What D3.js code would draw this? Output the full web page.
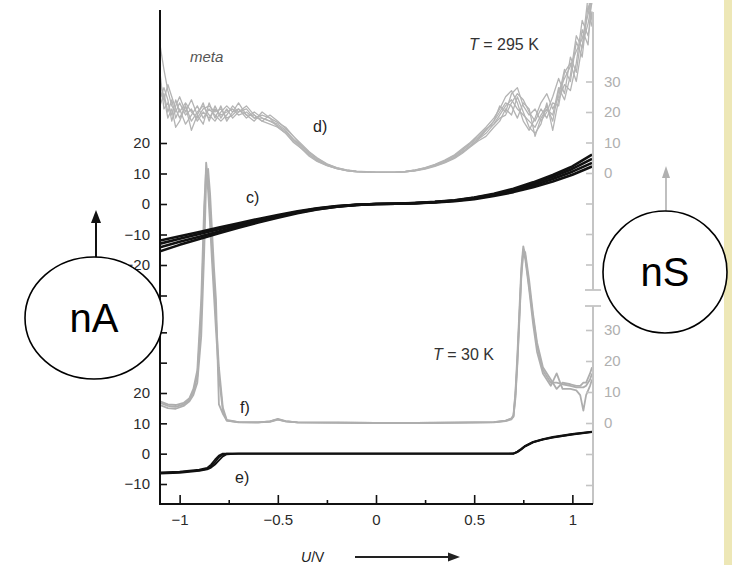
<!DOCTYPE html>
<html>
<head>
<meta charset="utf-8">
<script src="https://cdnjs.cloudflare.com/ajax/libs/d3/7.8.5/d3.min.js"></script>
<style>
  body { margin: 0; background: #fff; }
  svg { display: block; font-family: "Liberation Sans", Arial, sans-serif; }
</style>
</head>
<body>
<script>
'use strict';

// ---- values ----
// upper panel (T = 295 K): c) current in nA, d) conductance in nS
const cU = [-1.1, -1.0, -0.9, -0.8, -0.7, -0.6, -0.5, -0.4, -0.3, -0.2, -0.1, 0,
  0.1, 0.2, 0.3, 0.4, 0.5, 0.6, 0.7, 0.8, 0.9, 1.0, 1.1];
const cTraces = [
  [-12, -10.6, -9.2, -7.7, -6.3, -4.9, -3.6, -2.4, -1.4, -0.7, -0.25, 0, 0.1, 0.25, 0.5, 0.95, 1.6, 2.6, 3.9, 5.5, 7.4, 9.6, 12.3],
  [-13, -11.4, -9.8, -8.3, -6.7, -5.3, -3.9, -2.6, -1.5, -0.75, -0.3, 0, 0.1, 0.3, 0.6, 1.05, 1.8, 2.9, 4.3, 6.1, 8.2, 10.6, 13.5],
  [-14.2, -12.4, -10.7, -9.0, -7.3, -5.8, -4.2, -2.8, -1.7, -0.85, -0.3, 0, 0.1, 0.3, 0.65, 1.15, 2.0, 3.1, 4.7, 6.7, 8.9, 11.5, 14.8],
  [-15.5, -13.4, -11.5, -9.6, -7.8, -6.1, -4.5, -3.0, -1.8, -0.9, -0.35, 0, 0.12, 0.35, 0.7, 1.25, 2.15, 3.35, 5.0, 7.1, 9.5, 12.3, 16.2]
];

const dU = [-1.1, -1.08, -1.06, -1.04, -1.02, -1.0, -0.97, -0.94, -0.91, -0.88, -0.85, -0.82,
  -0.79, -0.76, -0.73, -0.7, -0.66, -0.62, -0.58, -0.54, -0.5, -0.46, -0.42, -0.38, -0.34,
  -0.3, -0.25, -0.2, -0.15, -0.1, 0, 0.1, 0.15, 0.2, 0.25, 0.3, 0.35, 0.4, 0.44, 0.48, 0.52,
  0.56, 0.6, 0.63, 0.66, 0.69, 0.72, 0.75, 0.78, 0.81, 0.84, 0.87, 0.9, 0.93, 0.96, 0.99,
  1.02, 1.05, 1.08, 1.1];
const dTraces = [
  [42, 34, 27, 22, 20, 23, 19, 21, 17, 20, 18, 21, 19, 20, 21, 19, 20, 18, 18, 17, 16, 14, 11, 9, 6.5,
   4.5, 2.8, 1.6, 0.9, 0.5, 0.2, 0.2, 0.4, 0.8, 1.5, 2.4, 3.6, 5.2, 7, 9, 11, 13, 16, 19, 22, 24,
   21, 19, 17, 15, 19, 22, 17, 27, 31, 35, 40, 44, 52, 58],
  [27, 24, 29, 25, 21, 18, 22, 17, 20, 22, 19, 17, 20, 22, 20, 21, 19, 19, 17, 16, 15, 13, 10, 8, 6,
   4, 2.5, 1.4, 0.8, 0.4, 0.2, 0.3, 0.5, 1.0, 1.8, 2.8, 4.2, 6, 8, 10, 12.5, 15, 18, 21, 25, 27,
   23, 17, 14, 18, 23, 26, 21, 25, 34, 30, 43, 38, 55, 48],
  [22, 26, 20, 24, 18, 21, 16, 19, 22, 18, 21, 19, 17, 19, 22, 20, 21, 18, 19, 18, 16.5, 15, 12, 9.5, 7,
   5, 3, 1.8, 1.0, 0.6, 0.3, 0.3, 0.5, 0.9, 1.6, 2.6, 3.9, 5.6, 7.5, 9.5, 11.5, 14, 17, 22, 20, 26,
   28, 22, 19, 21, 17, 20, 25, 31, 26, 38, 33, 47, 42, 60],
  [33, 21, 23, 19, 24, 20, 23, 20, 18, 21, 22, 20, 21, 18, 19, 21, 18, 20, 18, 17, 15.5, 13.5, 11, 8.5, 6,
   4.2, 2.6, 1.5, 0.8, 0.5, 0.2, 0.2, 0.4, 0.7, 1.3, 2.2, 3.3, 4.8, 6.5, 8.5, 10.5, 12, 15, 17, 21, 19,
   25, 20, 15, 13, 16, 23, 14, 24, 29, 27, 36, 50, 45, 53],
  [30, 25, 18, 21, 15, 17, 22, 14, 19, 16, 23, 18, 22, 17, 20, 23, 19, 17, 20, 18, 15, 13, 10.5, 8, 5.5,
   3.8, 2.4, 1.4, 0.8, 0.4, 0.2, 0.2, 0.4, 0.8, 1.4, 2.3, 3.5, 5, 6.8, 8.8, 11, 14, 17, 20, 23, 22,
   18, 23, 21, 12, 18, 21, 19, 28, 24, 32, 45, 41, 58, 50],
  [24, 28, 24, 17, 22, 25, 20, 24, 19, 23, 17, 22, 18, 21, 18, 20, 22, 19, 17, 19, 17, 14.5, 12, 9, 6.8,
   4.8, 2.9, 1.7, 0.9, 0.5, 0.2, 0.3, 0.5, 0.9, 1.7, 2.7, 4.0, 5.7, 7.6, 9.8, 12, 14.5, 16, 18, 19, 23,
   26, 24, 20, 17, 21, 18, 23, 22, 33, 36, 30, 42, 49, 56]
];

// lower panel (T = 30 K): e) current in nA, f) conductance in nS
const eU = [-1.1, -1.0, -0.9, -0.86, -0.84, -0.82, -0.8, -0.78, -0.76, -0.7, -0.5, 0,
  0.5, 0.7, 0.72, 0.74, 0.76, 0.8, 0.85, 0.9, 1.0, 1.1];
const eTraces = [
  [-6.4, -6.1, -5.5, -5.0, -4.2, -2.8, -1.2, -0.3, 0, 0, 0, 0, 0, 0, 0.6, 1.5, 2.5, 3.8, 4.7, 5.4, 6.4, 7.2],
  [-6.6, -6.3, -5.7, -5.2, -4.6, -3.6, -2.2, -0.9, -0.2, 0, 0, 0, 0, 0, 0.5, 1.4, 2.4, 3.7, 4.6, 5.3, 6.3, 7.1],
  [-6.2, -5.9, -5.3, -4.7, -3.6, -2.0, -0.6, 0, 0, 0, 0, 0, 0, 0.05, 0.7, 1.6, 2.6, 3.9, 4.8, 5.5, 6.5, 7.3]
];

const fU = [-1.1, -1.06, -1.02, -0.98, -0.95, -0.93, -0.91, -0.89, -0.875, -0.865, -0.855,
  -0.845, -0.835, -0.825, -0.815, -0.8, -0.78, -0.76, -0.7, -0.6, -0.54, -0.5, -0.46, -0.4,
  -0.2, 0, 0.2, 0.4, 0.6, 0.66, 0.69, 0.7, 0.71, 0.72, 0.73, 0.74, 0.75, 0.76, 0.78, 0.8,
  0.82, 0.85, 0.89, 0.92, 0.95, 0.99, 1.02, 1.04, 1.056, 1.07, 1.09, 1.1];
const fTraces = [
  [6.5, 5.5, 5.2, 6, 7.5, 10, 15, 35, 65, 84, 78, 68, 56, 45, 34, 18, 5, 1, 0.3, 0.2, 0.5, 1.3,
   0.6, 0.2, 0.1, 0, 0, 0.1, 0.3, 0.8, 1.5, 2.5, 10, 22, 36, 50, 57, 54, 44, 34, 25, 17, 13, 13,
   12.5, 12, 11.5, 11.5, 11.5, 12, 14, 16],
  [5.8, 4.8, 4.6, 5.5, 7, 9, 13, 28, 55, 78, 82, 74, 62, 50, 40, 6, 3, 0.8, 0.2, 0.2, 0.4, 1.1,
   0.5, 0.2, 0.1, 0, 0, 0.1, 0.2, 0.6, 1.2, 2, 8, 19, 33, 47, 55, 53, 43, 32, 23, 16, 12, 16,
   11, 11, 10.5, 9, 4, 9, 12, 14],
  [7, 6, 5.8, 6.5, 8, 11, 17, 40, 70, 82, 75, 64, 52, 41, 30, 15, 4, 0.8, 0.3, 0.2, 0.5, 1.2,
   0.5, 0.2, 0.1, 0, 0, 0.1, 0.3, 0.7, 1.4, 2.2, 9, 20, 34, 48, 56, 55, 46, 35, 26, 18, 14, 11,
   13, 12.5, 12, 12, 13, 13, 16, 18]
];

// tick values
const xTicks = [-1, -0.5, 0, 0.5, 1];
const xMinorTicks = [-0.75, -0.25, 0.25, 0.75];
const upperLeftLabels = [-20, -10, 0, 10, 20];
const upperLeftExtra = [-30];
const lowerLeftLabels = [-10, 0, 10, 20];
const lowerLeftExtra = [30, 40];
const upperRightLabels = [0, 10, 20, 30];
const upperRightExtra = [-30, -20, -10];
const lowerRightLabels = [0, 10, 20, 30];
const lowerRightExtra = [-20, -10];

(function () {

  let svgContainer = "";
  const left = 160, right = 593, top = 10, bottom = 504;
  const fmt = d3.format('~g');

  window.onload = function () {
    svgContainer = d3.select('body')
      .append('svg')
      .attr('width', 732)
      .attr('height', 565);

    // yellow strip at the right edge
    svgContainer.append('rect')
      .attr('x', 724).attr('y', 0)
      .attr('width', 8).attr('height', 565)
      .attr('fill', '#ede7b6');

    let scales = makeScales();
    plotData(scales);
    drawAxes(scales);
    makeLabels();
    makeUnitBubbles();
  }

  function makeScales() {
    return {
      x: d3.scaleLinear().domain([-1.1, 1.1]).range([left, right - 1]),
      upLeft: d3.scaleLinear().domain([-20, 20]).range([265, 143]),
      upRight: d3.scaleLinear().domain([0, 30]).range([173, 81.5]),
      lowLeft: d3.scaleLinear().domain([-10, 20]).range([484, 393]),
      lowRight: d3.scaleLinear().domain([0, 30]).range([423, 330])
    };
  }

  // draw one set of traces sharing a voltage grid
  function drawTraces(g, uVals, traces, yScale, x, color, width) {
    traces.forEach(function (vals) {
      let pts = uVals.map((u, i) => [u, vals[i]]);
      g.append('path')
        .datum(pts)
        .attr('fill', 'none')
        .attr('stroke', color)
        .attr('stroke-width', width)
        .attr('stroke-linejoin', 'round')
        .attr('d', d3.line().x(d => x(d[0])).y(d => yScale(d[1])));
    });
  }

  function plotData(s) {
    svgContainer.append('clipPath').attr('id', 'plotClip')
      .append('rect')
      .attr('x', left).attr('y', 3)
      .attr('width', right - left).attr('height', bottom - 3);

    let g = svgContainer.append('g').attr('clip-path', 'url(#plotClip)');

    // grey conductance curves first, black current curves on top
    drawTraces(g, dU, dTraces, s.upRight, s.x, '#b4b4b4', 1.3);
    drawTraces(g, fU, fTraces, s.lowRight, s.x, '#aeaeae', 1.8);
    drawTraces(g, cU, cTraces, s.upLeft, s.x, '#111', 2.6);
    drawTraces(g, eU, eTraces, s.lowLeft, s.x, '#111', 1.8);
  }

  function yAxisPart(scale, labels, extra, isLeft, color) {
    let axis = (isLeft ? d3.axisLeft(scale) : d3.axisRight(scale))
      .tickValues(labels.concat(extra))
      .tickFormat(d => labels.includes(d) ? fmt(d) : '')
      .tickSizeInner(-7)
      .tickSizeOuter(0)
      .tickPadding(isLeft ? 10 : 11);

    let g = svgContainer.append('g')
      .attr('transform', 'translate(' + (isLeft ? left : right) + ',0)')
      .call(axis);
    g.select('.domain').remove();
    g.selectAll('line').attr('stroke', color).attr('stroke-width', 1.6);
    g.selectAll('text')
      .attr('fill', isLeft ? '#2a2a2a' : '#b0b0b0')
      .style('font-size', '15px')
      .style('font-family', '"Liberation Sans", Arial, sans-serif');
  }

  function drawAxes(s) {
    // left axis (black)
    svgContainer.append('line')
      .attr('x1', left).attr('x2', left)
      .attr('y1', top).attr('y2', bottom)
      .attr('stroke', '#111').attr('stroke-width', 2);
    yAxisPart(s.upLeft, upperLeftLabels, upperLeftExtra, true, '#111');
    yAxisPart(s.lowLeft, lowerLeftLabels, lowerLeftExtra, true, '#111');

    // right axis (grey) with a break
    svgContainer.append('line')
      .attr('x1', right).attr('x2', right)
      .attr('y1', 12).attr('y2', 290)
      .attr('stroke', '#c4c4c4').attr('stroke-width', 2);
    svgContainer.append('line')
      .attr('x1', right).attr('x2', right)
      .attr('y1', 306).attr('y2', bottom)
      .attr('stroke', '#c4c4c4').attr('stroke-width', 2);
    [290, 306].forEach(function (y) {
      svgContainer.append('line')
        .attr('x1', right - 8).attr('x2', right + 8)
        .attr('y1', y).attr('y2', y)
        .attr('stroke', '#c4c4c4').attr('stroke-width', 1.8);
    });
    yAxisPart(s.upRight, upperRightLabels, upperRightExtra, false, '#c4c4c4');
    yAxisPart(s.lowRight, lowerRightLabels, lowerRightExtra, false, '#c4c4c4');

    // bottom axis
    let xAxis = d3.axisBottom(s.x)
      .tickValues(xTicks)
      .tickFormat(fmt)
      .tickSizeInner(-9)
      .tickSizeOuter(0)
      .tickPadding(10);
    let gx = svgContainer.append('g')
      .attr('transform', 'translate(0,' + bottom + ')')
      .call(xAxis);
    gx.select('.domain').remove();
    gx.selectAll('line').attr('stroke', '#111').attr('stroke-width', 1.6);
    gx.selectAll('text')
      .attr('fill', '#2a2a2a')
      .style('font-size', '15px')
      .style('font-family', '"Liberation Sans", Arial, sans-serif');

    let xMinor = d3.axisBottom(s.x)
      .tickValues(xMinorTicks)
      .tickFormat('')
      .tickSizeInner(-4)
      .tickSizeOuter(0);
    let gm = svgContainer.append('g')
      .attr('transform', 'translate(0,' + bottom + ')')
      .call(xMinor);
    gm.select('.domain').remove();
    gm.selectAll('line').attr('stroke', '#111').attr('stroke-width', 1.6);

    svgContainer.append('line')
      .attr('x1', left - 1).attr('x2', right)
      .attr('y1', bottom).attr('y2', bottom)
      .attr('stroke', '#111').attr('stroke-width', 2);
  }

  function makeLabels() {
    svgContainer.append('text')
      .attr('x', 190).attr('y', 62)
      .style('font-size', '15px')
      .style('font-style', 'italic')
      .attr('fill', '#555')
      .text('meta');

    let t1 = svgContainer.append('text')
      .attr('x', 469).attr('y', 50)
      .style('font-size', '16px')
      .attr('fill', '#333');
    t1.append('tspan').style('font-style', 'italic').text('T');
    t1.append('tspan').text(' = 295 K');

    let t2 = svgContainer.append('text')
      .attr('x', 433).attr('y', 360)
      .style('font-size', '16px')
      .attr('fill', '#333');
    t2.append('tspan').style('font-style', 'italic').text('T');
    t2.append('tspan').text(' = 30 K');

    const curveTags = [['d)', 313, 132], ['c)', 246, 203], ['f)', 240, 413], ['e)', 235, 483]];
    curveTags.forEach(function (t) {
      svgContainer.append('text')
        .attr('x', t[1]).attr('y', t[2])
        .style('font-size', '16px')
        .attr('fill', '#222')
        .text(t[0]);
    });

    // x label with arrow
    let xl = svgContainer.append('text')
      .attr('x', 301).attr('y', 562)
      .style('font-size', '14px')
      .attr('fill', '#222');
    xl.append('tspan').style('font-style', 'italic').text('U');
    xl.append('tspan').text('/V');

    svgContainer.append('line')
      .attr('x1', 355).attr('x2', 450)
      .attr('y1', 557).attr('y2', 557)
      .attr('stroke', '#222').attr('stroke-width', 1.8);
    svgContainer.append('path')
      .attr('d', 'M448,552.5 L460,557 L448,561.5 Z')
      .attr('fill', '#222');
  }

  // circled unit labels with their arrows
  function makeUnitBubbles() {
    svgContainer.append('line')
      .attr('x1', 96).attr('x2', 96)
      .attr('y1', 220).attr('y2', 258)
      .attr('stroke', '#111').attr('stroke-width', 2);
    svgContainer.append('path')
      .attr('d', 'M91,223 L96,210 L101,223 Z')
      .attr('fill', '#111');

    svgContainer.append('line')
      .attr('x1', 666).attr('x2', 666)
      .attr('y1', 175).attr('y2', 211)
      .attr('stroke', '#b0b0b0').attr('stroke-width', 1.6);
    svgContainer.append('path')
      .attr('d', 'M662,178 L666,166 L670,178 Z')
      .attr('fill', '#b0b0b0');

    const bubbles = [['nA', 94, 318, 69, 61], ['nS', 665, 272, 62, 61]];
    bubbles.forEach(function (b) {
      svgContainer.append('ellipse')
        .attr('cx', b[1]).attr('cy', b[2])
        .attr('rx', b[3]).attr('ry', b[4])
        .attr('fill', '#fff')
        .attr('stroke', '#000')
        .attr('stroke-width', 1.6);
      svgContainer.append('text')
        .attr('x', b[1]).attr('y', b[2] + 14)
        .attr('text-anchor', 'middle')
        .style('font-size', '40px')
        .style('font-family', 'Arial, "Liberation Sans", sans-serif')
        .attr('fill', '#000')
        .text(b[0]);
    });
  }

})();
</script>
</body>
</html>
